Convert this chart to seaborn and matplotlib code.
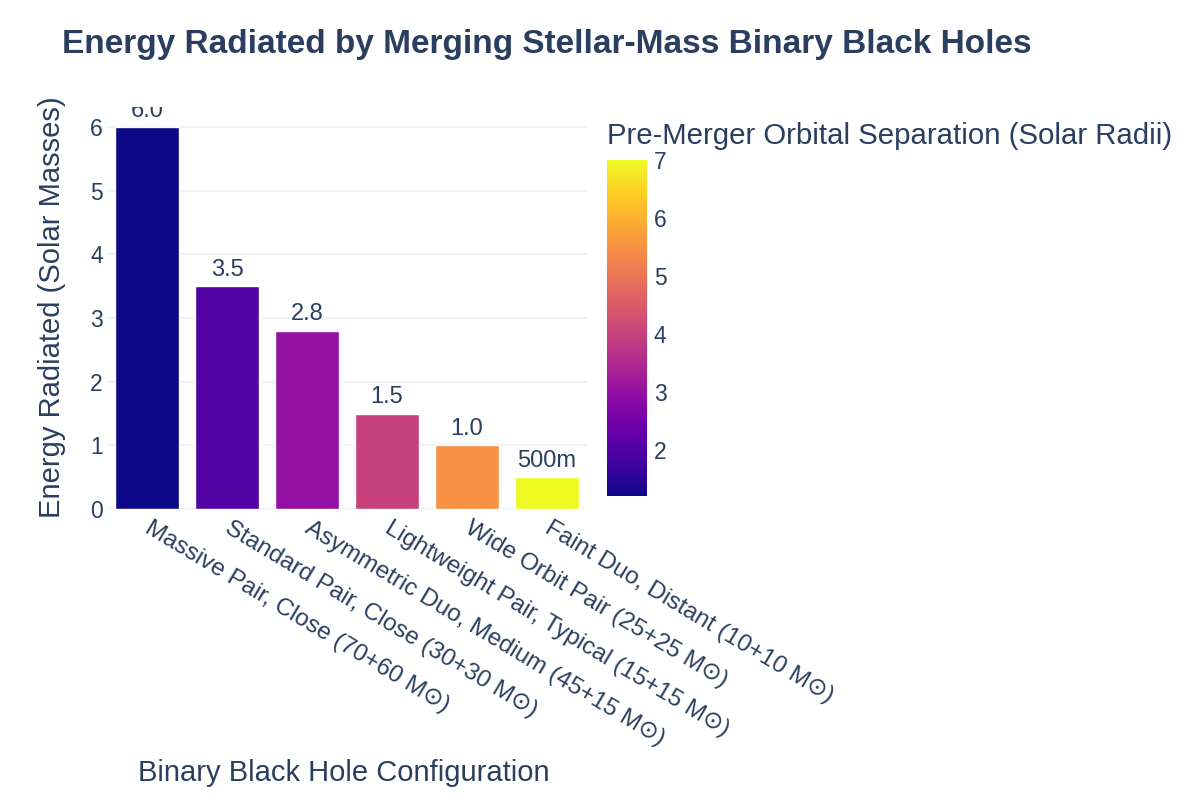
import numpy as np
import pandas as pd
import seaborn as sns
import matplotlib.pyplot as plt
from matplotlib import cm, colors as mcolors

# --------------------------
# Dados
# --------------------------
configs = [
    'Massive Pair, Close (70+60 M⊙)',
    'Standard Pair, Close (30+30 M⊙)',
    'Asymmetric Duo, Medium (45+15 M⊙)',
    'Lightweight Pair, Typical (15+15 M⊙)',
    'Wide Orbit Pair (25+25 M⊙)',
    'Faint Duo, Distant (10+10 M⊙)',
]
energy = [6.0, 3.5, 2.8, 1.5, 1.0, 0.5]
separation = [1.2, 2.0, 3.0, 4.0, 5.5, 7.0]
cbar_ticks = [2, 3, 4, 5, 6, 7]

df = pd.DataFrame({'config': configs, 'energy': energy, 'sep': separation})

# --------------------------
# Estilo
# --------------------------
sns.set_style('white')
plt.rcParams['font.family'] = ['Liberation Sans', 'DejaVu Sans']
TXT = '#2a3f5f'
GRID = '#ebf0f8'

norm = mcolors.Normalize(vmin=min(separation), vmax=max(separation))
cmap = plt.get_cmap('plasma')
bar_colors = [cmap(norm(s)) for s in separation]

fig = plt.figure(figsize=(12, 8), dpi=100)
ax = fig.add_axes([107/1200, 1 - 509/800, 480/1200, 402/800])

sns.barplot(data=df, x='config', y='energy', hue='config', palette=bar_colors,
            legend=False, width=0.8, saturation=1, ax=ax)

ax.set_ylim(0, 6.316)
ax.set_xlim(-0.5, len(configs) - 0.5)
ax.set_yticks(range(0, 7))
ax.grid(axis='y', color=GRID, linewidth=1.2)
ax.set_axisbelow(True)
ax.axhline(0, color=GRID, linewidth=2.5, zorder=0.5)
for s in ax.spines.values():
    s.set_visible(False)

ax.tick_params(axis='both', length=0, labelsize=16.5, colors=TXT)
ax.tick_params(axis='y', pad=3)
ax.set_xticks(range(len(configs)))
ax.set_xticklabels(configs, rotation=-31, ha='left', va='center',
                   rotation_mode='anchor', fontsize=17.5)
ax.tick_params(axis='x', pad=13)

# valores em cima das barras
def fmt(v):
    return f'{v*1000:.0f}m' if v < 1 else f'{v:.1f}'

for cont, v in zip(ax.containers, energy):
    txts = ax.bar_label(cont, labels=[fmt(v)], padding=4, fontsize=17, color=TXT)
    for t in txts:
        t.set_clip_on(True)
        t.set_clip_box(ax.bbox)

ax.set_xlabel('Binary Black Hole Configuration', fontsize=21, color=TXT)
ax.xaxis.set_label_coords((344 - 107) / 480, -(773 - 509) / 402)
ax.xaxis.label.set_va('center')
ax.set_ylabel('Energy Radiated (Solar Masses)', fontsize=21, color=TXT)
ax.yaxis.set_label_coords((52 - 107) / 480, (509 - 307) / 402)
ax.yaxis.label.set_va('center')

# colorbar
cax = fig.add_axes([607/1200, 1 - 496/800, 40/1200, 336/800])
sm = cm.ScalarMappable(norm=norm, cmap=cmap)
cb = fig.colorbar(sm, cax=cax)
cb.outline.set_visible(False)
cb.set_ticks(cbar_ticks)
cax.tick_params(length=0, labelsize=16.5, colors=TXT, pad=5)
fig.text(607/1200, 1 - 136/800, 'Pre-Merger Orbital Separation (Solar Radii)',
         fontsize=21.2, color=TXT, va='center', ha='left')

fig.text(62/1200, 1 - 44/800, 'Energy Radiated by Merging Stellar-Mass Binary Black Holes',
         fontsize=24, fontweight='bold', color=TXT, va='center', ha='left')

plt.savefig('out.png', dpi=100, facecolor='white')
